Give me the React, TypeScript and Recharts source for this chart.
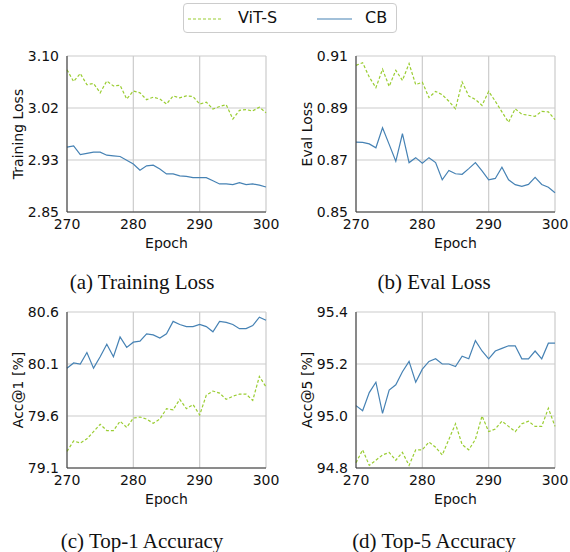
import { LineChart, Line, XAxis, YAxis, CartesianGrid } from 'recharts';

const epochs = Array.from({ length: 31 }, (_, i) => 270 + i);
const epochTicks = [270, 280, 290, 300];

const trainVit = [3.078, 3.059, 3.072, 3.054, 3.056, 3.041, 3.060, 3.052, 3.053, 3.031, 3.044, 3.041, 3.030, 3.034, 3.031, 3.023, 3.036, 3.033, 3.036, 3.035, 3.023, 3.026, 3.015, 3.019, 3.022, 2.999, 3.013, 3.014, 3.012, 3.018, 3.009];
const trainCb = [2.954, 2.956, 2.942, 2.944, 2.946, 2.946, 2.941, 2.940, 2.939, 2.933, 2.927, 2.917, 2.924, 2.925, 2.919, 2.911, 2.911, 2.908, 2.907, 2.905, 2.905, 2.905, 2.900, 2.895, 2.895, 2.894, 2.897, 2.894, 2.895, 2.893, 2.890];

const evalVit = [0.9064, 0.9074, 0.9019, 0.8978, 0.9049, 0.8983, 0.9045, 0.9006, 0.9071, 0.8990, 0.8999, 0.8940, 0.8964, 0.8951, 0.8926, 0.8897, 0.9000, 0.8946, 0.8933, 0.8910, 0.8964, 0.8926, 0.8885, 0.8845, 0.8897, 0.8876, 0.8872, 0.8868, 0.8887, 0.8885, 0.8855];
const evalCb = [0.8769, 0.8768, 0.8762, 0.8747, 0.8824, 0.8760, 0.8695, 0.8801, 0.8690, 0.8709, 0.8688, 0.8709, 0.8690, 0.8624, 0.8660, 0.8647, 0.8645, 0.8667, 0.8690, 0.8658, 0.8624, 0.8629, 0.8672, 0.8624, 0.8605, 0.8599, 0.8606, 0.8633, 0.8606, 0.8595, 0.8574];

const top1Vit = [79.26, 79.36, 79.34, 79.38, 79.45, 79.52, 79.46, 79.46, 79.55, 79.49, 79.58, 79.59, 79.57, 79.53, 79.57, 79.67, 79.66, 79.76, 79.67, 79.71, 79.61, 79.80, 79.84, 79.82, 79.76, 79.79, 79.81, 79.81, 79.75, 79.98, 79.88];
const top1Cb = [80.06, 80.11, 80.10, 80.21, 80.06, 80.17, 80.29, 80.17, 80.36, 80.26, 80.31, 80.32, 80.39, 80.38, 80.35, 80.39, 80.51, 80.48, 80.46, 80.46, 80.48, 80.46, 80.41, 80.51, 80.50, 80.48, 80.44, 80.44, 80.47, 80.55, 80.52];

const top5Vit = [94.82, 94.87, 94.81, 94.83, 94.85, 94.86, 94.83, 94.86, 94.81, 94.87, 94.87, 94.90, 94.88, 94.85, 94.91, 94.97, 94.89, 94.87, 94.91, 95.00, 94.94, 94.95, 94.98, 94.96, 94.94, 94.97, 94.98, 94.96, 94.96, 95.03, 94.96];
const top5Cb = [95.04, 95.02, 95.09, 95.13, 95.01, 95.10, 95.12, 95.17, 95.21, 95.13, 95.18, 95.21, 95.22, 95.20, 95.20, 95.19, 95.23, 95.22, 95.29, 95.25, 95.22, 95.25, 95.26, 95.27, 95.27, 95.22, 95.22, 95.25, 95.22, 95.28, 95.28];

const trainTicks = [2.85, 2.85 + 0.25 / 3, 2.85 + 0.5 / 3, 3.1];
const evalTicks = [0.85, 0.87, 0.89, 0.91];
const top1Ticks = [79.1, 79.6, 80.1, 80.6];
const top5Ticks = [94.8, 95.0, 95.2, 95.4];

const VIT_COLOR = '#9acd32';
const CB_COLOR = '#4682b4';
const SANS = '"DejaVu Sans", sans-serif';
const SERIF = '"Liberation Serif", "Times New Roman", serif';

interface PanelProps {
  vit: number[];
  cb: number[];
  ticks: number[];
  digits: number;
  yLabel: string;
  left: number;
  top: number;
}

function Panel({ vit, cb, ticks, digits, yLabel, left, top }: PanelProps) {
  const rows = epochs.map((e, i) => ({ epoch: e, vit: vit[i], cb: cb[i] }));
  return (
    <div style={{ position: 'absolute', left, top }}>
      <LineChart width={285} height={230} data={rows} margin={{ top: 16, right: 19, bottom: 22, left: 0 }}>
        <CartesianGrid stroke="#cccccc" strokeWidth={1.2} />
        <XAxis
          dataKey="epoch"
          type="number"
          domain={[270, 300]}
          ticks={epochTicks}
          height={36}
          tickLine={false}
          tickSize={5}
          axisLine={{ stroke: '#333' }}
          tick={{ fill: '#111', fontSize: 14 }}
          label={{ value: 'Epoch', position: 'insideBottom', offset: 0, style: { fill: '#111', fontSize: 14 } }}
        />
        <YAxis
          type="number"
          domain={[ticks[0], ticks[ticks.length - 1]]}
          ticks={ticks}
          width={67}
          tickLine={false}
          axisLine={{ stroke: '#333' }}
          tick={{ fill: '#111', fontSize: 14 }}
          tickFormatter={(v: number) => v.toFixed(digits)}
          label={{ value: yLabel, angle: -90, position: 'insideLeft', offset: 18, style: { textAnchor: 'middle', fill: '#111', fontSize: 14 } }}
        />
        <Line type="linear" dataKey="vit" stroke={VIT_COLOR} strokeWidth={1.2} strokeDasharray="3 2" dot={false} isAnimationActive={false} />
        <Line type="linear" dataKey="cb" stroke={CB_COLOR} strokeWidth={1.2} dot={false} isAnimationActive={false} />
      </LineChart>
    </div>
  );
}

function Caption({ text, left, top }: { text: string; left: number; top: number }) {
  return (
    <div style={{ position: 'absolute', left, top, width: 284, height: 24, lineHeight: '24px', textAlign: 'center', fontFamily: SERIF, fontSize: 21, color: '#111' }}>
      {text}
    </div>
  );
}

export default function App() {
  return (
    <div style={{ position: 'absolute', left: 0, top: 0, width: 570, height: 552, background: '#fff', fontFamily: SANS, overflow: 'hidden' }}>
      <div style={{ position: 'absolute', left: 183, top: 3, width: 214, height: 30, border: '1px solid #cccccc', borderRadius: 4, boxSizing: 'border-box', fontSize: 16, color: '#111' }}>
        <svg style={{ position: 'absolute', left: 4, top: 13 }} width={36} height={4}>
          <line x1={0} y1={2} x2={35} y2={2} stroke={VIT_COLOR} strokeWidth={1.2} strokeDasharray="3 2" />
        </svg>
        <span style={{ position: 'absolute', left: 54, top: 4, lineHeight: '20px' }}>ViT-S</span>
        <svg style={{ position: 'absolute', left: 133, top: 13 }} width={36} height={4}>
          <line x1={0} y1={2} x2={35} y2={2} stroke={CB_COLOR} strokeWidth={1.2} />
        </svg>
        <span style={{ position: 'absolute', left: 181, top: 4, lineHeight: '20px' }}>CB</span>
      </div>
      <Panel vit={trainVit} cb={trainCb} ticks={trainTicks} digits={2} yLabel="Training Loss" left={0} top={40} />
      <Panel vit={evalVit} cb={evalCb} ticks={evalTicks} digits={2} yLabel="Eval Loss" left={289} top={40} />
      <Panel vit={top1Vit} cb={top1Cb} ticks={top1Ticks} digits={1} yLabel="Acc@1 [%]" left={0} top={296} />
      <Panel vit={top5Vit} cb={top5Cb} ticks={top5Ticks} digits={1} yLabel="Acc@5 [%]" left={289} top={296} />
      <Caption text="(a) Training Loss" left={0} top={270} />
      <Caption text="(b) Eval Loss" left={292} top={270} />
      <Caption text="(c) Top-1 Accuracy" left={0} top={529} />
      <Caption text="(d) Top-5 Accuracy" left={292} top={529} />
    </div>
  );
}
